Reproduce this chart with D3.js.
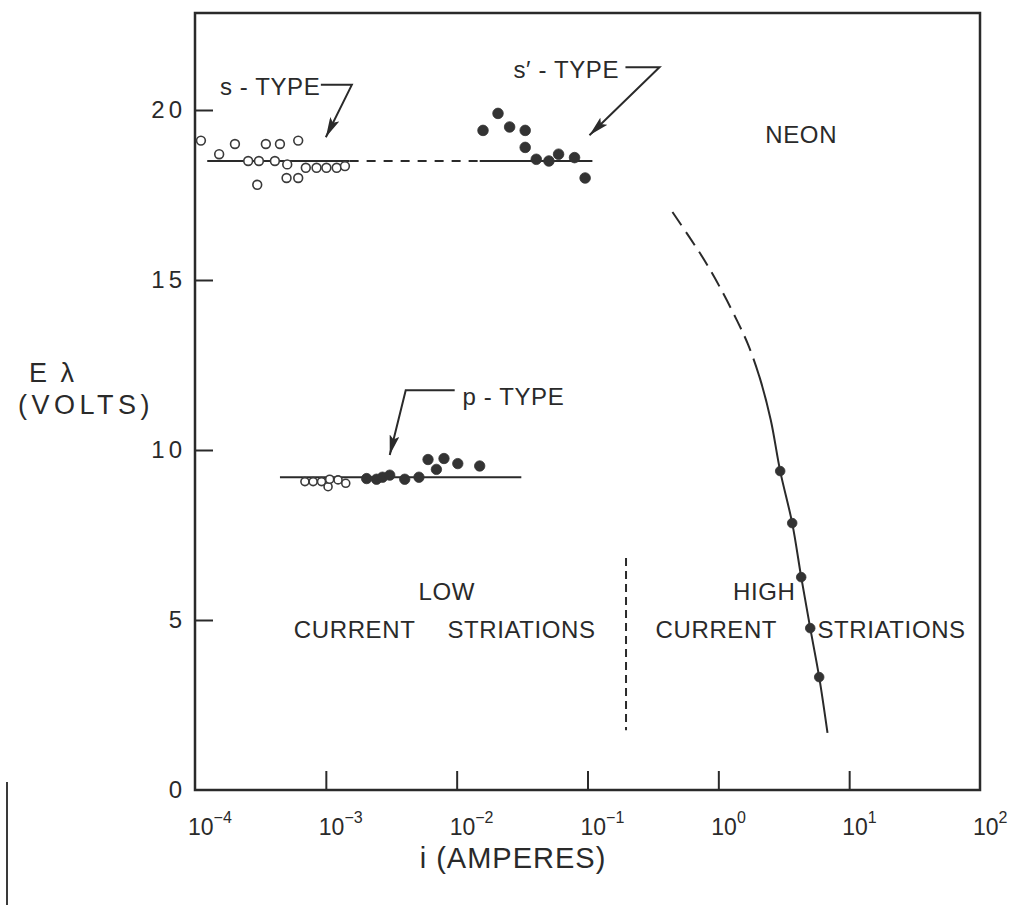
<!DOCTYPE html>
<html>
<head>
<meta charset="utf-8">
<script src="https://cdn.jsdelivr.net/npm/d3@7"></script>
<style>
  body { margin: 0; background: #ffffff; }
  svg text { font-family: "Liberation Sans", Arial, sans-serif; fill: #2a2a2a; }
</style>
</head>
<body>
<svg id="chart" width="1011" height="905"></svg>
<script>
// Striation field E·λ versus discharge current in neon

// s-type striations, low current (open circles)
const sTypeCurrent = [1.11e-4, 1.53e-4, 2.02e-4, 2.55e-4, 2.99e-4, 3.08e-4, 3.48e-4, 4.08e-4, 4.46e-4,
                      5.07e-4, 5.01e-4, 6.15e-4, 6.15e-4, 7.03e-4, 8.49e-4, 1.01e-3, 1.21e-3, 1.40e-3];
const sTypeVolts   = [19.1, 18.7, 19.0, 18.5, 17.8, 18.5, 19.0, 18.5, 19.0,
                      18.4, 18.0, 19.1, 18.0, 18.3, 18.3, 18.3, 18.3, 18.35];

// s'-type striations (filled circles)
const sPrimeCurrent = [1.59e-2, 2.07e-2, 2.54e-2, 3.34e-2, 3.34e-2, 4.06e-2, 5.07e-2, 6.01e-2, 7.96e-2, 9.59e-2];
const sPrimeVolts   = [19.4, 19.9, 19.5, 19.4, 18.9, 18.55, 18.5, 18.7, 18.6, 18.0];

// p-type striations (open and filled circles)
const pOpenCurrent   = [6.92e-4, 8.0e-4, 9.27e-4, 1.04e-3, 1.07e-3, 1.24e-3, 1.42e-3];
const pOpenVolts     = [9.07, 9.07, 9.07, 8.92, 9.14, 9.12, 9.02];
const pFilledCurrent = [2.05e-3, 2.44e-3, 2.71e-3, 3.08e-3, 4.01e-3, 5.15e-3, 6.04e-3, 7.0e-3, 8.0e-3, 1.02e-2, 1.50e-2];
const pFilledVolts   = [9.16, 9.14, 9.2, 9.26, 9.14, 9.2, 9.72, 9.43, 9.75, 9.6, 9.53];

// high current striations (filled circles)
const highCurrent = [2.97, 3.67, 4.30, 5.04, 5.90];
const highVolts   = [9.38, 7.85, 6.26, 4.76, 3.32];

// guide lines: levels and extents
const sLevel = 18.5;
const sSolidLow   = [1.24e-4, 1.52e-3];
const sDashed     = [1.52e-3, 1.5e-2];
const sSolidHigh  = [1.5e-2, 0.109];
const pLevel = 9.2;
const pExtent = [4.46e-4, 3.12e-2];

// high current trend curve (dashed above the split level, solid below)
const trendCurrent = [0.446, 0.601, 0.789, 1.054, 1.396, 1.680, 2.074, 2.516, 2.97, 3.67, 4.30, 5.04, 5.90, 6.83];
const trendVolts   = [17.0, 16.26, 15.56, 14.71, 13.79, 13.12, 12.12, 10.88, 9.38, 7.85, 6.26, 4.76, 3.32, 1.68];
const trendSplitVolts = 12.2;

// boundary between low and high current regimes
const dividerCurrent = 0.197;
const dividerVolts = [1.76, 6.82];

// axes
const yTicks = [0, 5, 10, 15, 20];
const yTickLabels = ["0", "5", "10", "15", "20"];
const xExponents = [-4, -3, -2, -1, 0, 1, 2];

// annotations: [text, current, volts, anchor]
const labels = [
  ["s - TYPE", 1.55e-4, 20.44, "start"],
  ["s\u2032 - TYPE", 2.72e-2, 20.94, "start"],
  ["p - TYPE", 1.11e-2, 11.32, "start"],
  ["NEON", 4.3, 19.03, "middle"],
  ["LOW", 8.4e-3, 5.59, "middle"],
  ["CURRENT", 1.66e-3, 4.47, "middle"],
  ["STRIATIONS", 3.13e-2, 4.47, "middle"],
  ["HIGH", 2.24, 5.59, "middle"],
  ["CURRENT", 0.966, 4.47, "middle"],
  ["STRIATIONS", 21.1, 4.47, "middle"]
];
// leader arrows: elbow start, corner, tip (current, volts)
const arrows = [
  [[9.16e-4, 20.74], [1.58e-3, 20.74], [1.0e-3, 19.2]],
  [[0.195, 21.26], [0.355, 21.26], [0.1035, 19.26]],
  [[9.66e-3, 11.76], [4.08e-3, 11.76], [3.08e-3, 9.85]]
];

const ink = "#2a2a2a";
const svg = d3.select("#chart");
const plotLeft = 195, plotRight = 980, plotTop = 13, plotBottom = 790;

const x = d3.scaleLog().domain([1e-4, 1e2]).range([plotLeft, plotRight]);
const y = d3.scaleLinear().domain([0, (plotBottom - plotTop) / 34]).range([plotBottom, plotTop]);

svg.append("rect").attr("width", 1011).attr("height", 905).attr("fill", "#ffffff");

// scan edge
svg.append("line").attr("x1", 7).attr("x2", 7).attr("y1", 782).attr("y2", 905)
  .attr("stroke", "#3a3a3a").attr("stroke-width", 2);

// frame
svg.append("rect").attr("x", plotLeft).attr("y", plotTop)
  .attr("width", plotRight - plotLeft).attr("height", plotBottom - plotTop)
  .attr("fill", "none").attr("stroke", ink).attr("stroke-width", 2.5);

// x axis: inward ticks, labels drawn separately as powers of ten
const xAxis = d3.axisBottom(x).tickValues(xExponents.map(e => Math.pow(10, e)))
  .tickSizeInner(-19).tickSizeOuter(0).tickFormat("");
const gx = svg.append("g").attr("transform", `translate(0,${plotBottom})`).call(xAxis);
gx.select(".domain").remove();
gx.selectAll(".tick line").attr("stroke", ink).attr("stroke-width", 2)
  .filter(d => d <= 1e-4 || d >= 1e2).remove();

const xl = svg.append("g").selectAll("text").data(xExponents).join("text")
  .attr("x", e => x(Math.pow(10, e)) - 7).attr("y", 835)
  .attr("font-size", 23).attr("text-anchor", "start");
xl.append("tspan").text("10");
xl.append("tspan").attr("dy", -12).attr("font-size", 16).text(e => e < 0 ? "\u2212" + (-e) : String(e));

// y axis
const yAxis = d3.axisLeft(y).tickValues(yTicks).tickSizeInner(-18).tickSizeOuter(0)
  .tickFormat((d, i) => yTickLabels[i]).tickPadding(9);
const gy = svg.append("g").attr("transform", `translate(${plotLeft},0)`).call(yAxis);
gy.select(".domain").remove();
gy.selectAll(".tick line").attr("stroke", ink).attr("stroke-width", 2).filter(d => d === 0).remove();
gy.selectAll(".tick text").attr("font-size", 24).attr("fill", ink).attr("letter-spacing", 4)
  .attr("font-family", "Liberation Sans, Arial, sans-serif");

// axis titles
svg.append("text").attr("x", 53).attr("y", 382).attr("text-anchor", "middle")
  .attr("font-size", 27).attr("letter-spacing", 3).text("E \u03bb");
svg.append("text").attr("x", 86).attr("y", 414).attr("text-anchor", "middle")
  .attr("font-size", 27).attr("letter-spacing", 4.5).text("(VOLTS)");
svg.append("text").attr("x", 513).attr("y", 868).attr("text-anchor", "middle")
  .attr("font-size", 29).attr("letter-spacing", 1).text("i (AMPERES)");

// s-type and p-type level lines
const hline = (ext, lvl, dash) => svg.append("line")
  .attr("x1", x(ext[0])).attr("x2", x(ext[1])).attr("y1", y(lvl)).attr("y2", y(lvl))
  .attr("stroke", ink).attr("stroke-width", 2).attr("stroke-dasharray", dash);
hline(sSolidLow, sLevel, null);
hline(sDashed, sLevel, "9,8");
hline(sSolidHigh, sLevel, null);
hline(pExtent, pLevel, null);

// regime divider
svg.append("line").attr("x1", x(dividerCurrent)).attr("x2", x(dividerCurrent))
  .attr("y1", y(dividerVolts[1])).attr("y2", y(dividerVolts[0]))
  .attr("stroke", ink).attr("stroke-width", 2).attr("stroke-dasharray", "8,5");

// high current trend curve
const trendPts = trendCurrent.map((c, i) => [c, trendVolts[i]]);
const trendLine = d3.line().x(d => x(d[0])).y(d => y(d[1])).curve(d3.curveCatmullRom.alpha(0.5));
const trend = svg.append("path").attr("d", trendLine(trendPts))
  .attr("fill", "none").attr("stroke", ink).attr("stroke-width", 2);
{
  const node = trend.node();
  const total = node.getTotalLength();
  const yCut = y(trendSplitVolts);
  let lo = 0, hi = total;
  for (let k = 0; k < 40; k++) {
    const mid = (lo + hi) / 2;
    if (node.getPointAtLength(mid).y < yCut) lo = mid; else hi = mid;
  }
  const dashes = [];
  let run = 0;
  while (run + 24 < lo) { dashes.push(16, 8); run += 24; }
  dashes.push(lo - run, 0, total, 0);
  trend.attr("stroke-dasharray", dashes.join(","));
}

// markers
const dots = (cs, vs, filled, r) => svg.append("g").selectAll("circle")
  .data(cs.map((c, i) => [c, vs[i]])).join("circle")
  .attr("cx", d => x(d[0])).attr("cy", d => y(d[1])).attr("r", r)
  .attr("fill", filled ? "#333333" : "#ffffff")
  .attr("stroke", filled ? "#333333" : "#3a3a3a").attr("stroke-width", filled ? 0.8 : 1.6);
dots(sTypeCurrent, sTypeVolts, false, 4.4);
dots(pOpenCurrent, pOpenVolts, false, 4.0);
dots(sPrimeCurrent, sPrimeVolts, true, 5.3);
dots(pFilledCurrent, pFilledVolts, true, 5.2);
dots(highCurrent, highVolts, true, 4.8);

// annotation text
svg.append("g").selectAll("text").data(labels).join("text")
  .attr("x", d => x(d[1])).attr("y", d => y(d[2]))
  .attr("text-anchor", d => d[3]).attr("font-size", 24).attr("letter-spacing", 0.6)
  .text(d => d[0]);

// leader arrows with filled heads
svg.append("defs").append("marker").attr("id", "head")
  .attr("viewBox", "0 0 20 10").attr("refX", 20).attr("refY", 5)
  .attr("markerWidth", 20).attr("markerHeight", 10).attr("markerUnits", "userSpaceOnUse")
  .attr("orient", "auto")
  .append("path").attr("d", "M0,0 L20,5 L0,10 L4,5 Z").attr("fill", ink);
svg.append("g").selectAll("path").data(arrows).join("path")
  .attr("d", d => d3.line().x(p => x(p[0])).y(p => y(p[1])).curve(d3.curveLinear)(d))
  .attr("fill", "none").attr("stroke", ink).attr("stroke-width", 2)
  .attr("marker-end", "url(#head)");
</script>
</body>
</html>
